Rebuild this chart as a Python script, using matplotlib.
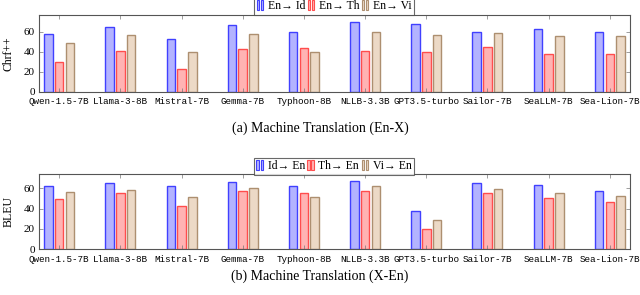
import matplotlib
matplotlib.use("Agg")
import matplotlib.pyplot as plt
import numpy as np
from matplotlib.legend_handler import HandlerBase
from matplotlib.patches import Rectangle

models = ["Qwen-1.5-7B", "Llama-3-8B", "Mistral-7B", "Gemma-7B", "Typhoon-8B",
          "NLLB-3.3B", "GPT3.5-turbo", "Sailor-7B", "SeaLLM-7B", "Sea-Lion-7B"]

# (a) En-X  (chrF++)
en_id = [58.0, 64.3, 52.7, 66.3, 59.3, 69.7, 67.7, 59.3, 62.3, 59.3]
en_th = [30.0, 40.3, 22.3, 42.3, 43.3, 41.0, 39.3, 44.3, 37.7, 37.3]
en_vi = [48.7, 57.0, 39.3, 57.7, 39.3, 60.0, 56.7, 58.7, 55.7, 55.7]
labels_a = ["En\u2192 Id", "En\u2192 Th", "En\u2192 Vi"]

# (b) X-En (BLEU)
id_en = [62.0, 64.9, 62.0, 66.6, 62.6, 67.5, 37.7, 64.9, 63.0, 57.4]
th_en = [49.8, 55.4, 42.6, 57.7, 55.7, 57.0, 19.7, 55.0, 50.2, 46.9]
vi_en = [56.4, 58.4, 51.5, 60.0, 51.5, 62.0, 28.5, 59.0, 55.4, 52.1]
labels_b = ["Id\u2192 En", "Th\u2192 En", "Vi\u2192 En"]

yticks = [0, 20, 40, 60]

fills = [(0.70, 0.70, 1.0), (1.0, 0.70, 0.70), (0.925, 0.85, 0.775)]
edges = [(0.25, 0.25, 1.0), (1.0, 0.3, 0.3), (0.68, 0.56, 0.44)]

serif = ["Liberation Serif", "DejaVu Serif"]
mono = ["Liberation Mono", "DejaVu Sans Mono"]


class TwoBarHandler(HandlerBase):
    def create_artists(self, legend, orig_handle, xdescent, ydescent, width,
                       height, fontsize, trans):
        fc = orig_handle.get_facecolor()
        ec = orig_handle.get_edgecolor()
        w = width * 0.32
        arts = []
        for i in range(2):
            r = Rectangle((-xdescent + i * w * 1.6, -ydescent - height * 0.1), w, height * 1.2,
                          facecolor=fc, edgecolor=ec, lw=0.8, transform=trans)
            arts.append(r)
        return arts


fig = plt.figure(figsize=(6.4, 2.95), dpi=100)

def panel(rect, series, labels, ylabel, ymax, caption, cap_y, leg_pt):
    ax = fig.add_axes(rect)
    x = np.arange(len(models))
    off = 0.175
    bw = 0.14
    handles = []
    for k, vals in enumerate(series):
        b = ax.bar(x + (k - 1) * off, vals, width=bw, color=fills[k],
                   edgecolor=edges[k], linewidth=1.0, label=labels[k])
        handles.append(b.patches[0])
    ax.set_xlim(-0.33, len(models) - 1 + 0.33)
    ax.set_ylim(0, ymax)
    ax.set_xticks(x)
    ax.set_xticklabels(models, fontfamily=mono, fontsize=6.7)
    ax.set_yticks(yticks)
    ax.set_yticklabels([str(t) for t in yticks], fontfamily=serif, fontsize=8)
    ax.tick_params(axis="x", which="both", direction="in", top=True, bottom=True,
                   length=3, width=0.5, color="#777777", pad=4)
    ax.tick_params(axis="y", which="both", direction="in", left=True, right=True,
                   length=3, width=0.5, color="#777777", pad=3)
    for s in ax.spines.values():
        s.set_color("#555555")
        s.set_linewidth(0.8)
    ax.set_ylabel(ylabel, fontfamily=serif, fontsize=8.5)
    ax.yaxis.set_label_coords(-0.042, 0.5)
    leg = fig.legend(handles, labels, loc="lower center", bbox_to_anchor=leg_pt,
                     ncol=3, frameon=True, fancybox=False,
                     prop={"family": serif, "size": 8.5},
                     handler_map={Rectangle: TwoBarHandler()},
                     handlelength=0.7, handleheight=0.7, handletextpad=0.25,
                     columnspacing=0.2, borderpad=0.22, borderaxespad=0.0)
    leg.get_frame().set_edgecolor("#444444")
    leg.get_frame().set_linewidth(0.8)
    fig.text(0.5, cap_y, caption, ha="center", va="center",
             fontfamily=serif, fontsize=10)
    return ax

panel([39 / 640, 1 - 91.7 / 295, 591 / 640, 76.7 / 295],
      [en_id, en_th, en_vi], labels_a, "Chrf++", 76.7,
      "(a) Machine Translation (En-X)", 1 - 128 / 295,
      (334 / 640, 1 - 15 / 295))

panel([39 / 640, 1 - 249.3 / 295, 591 / 640, 75.3 / 295],
      [id_en, th_en, vi_en], labels_b, "BLEU", 74.1,
      "(b) Machine Translation (X-En)", 1 - 276 / 295,
      (334 / 640, 1 - 175 / 295))

fig.savefig("out.png", dpi=100)
